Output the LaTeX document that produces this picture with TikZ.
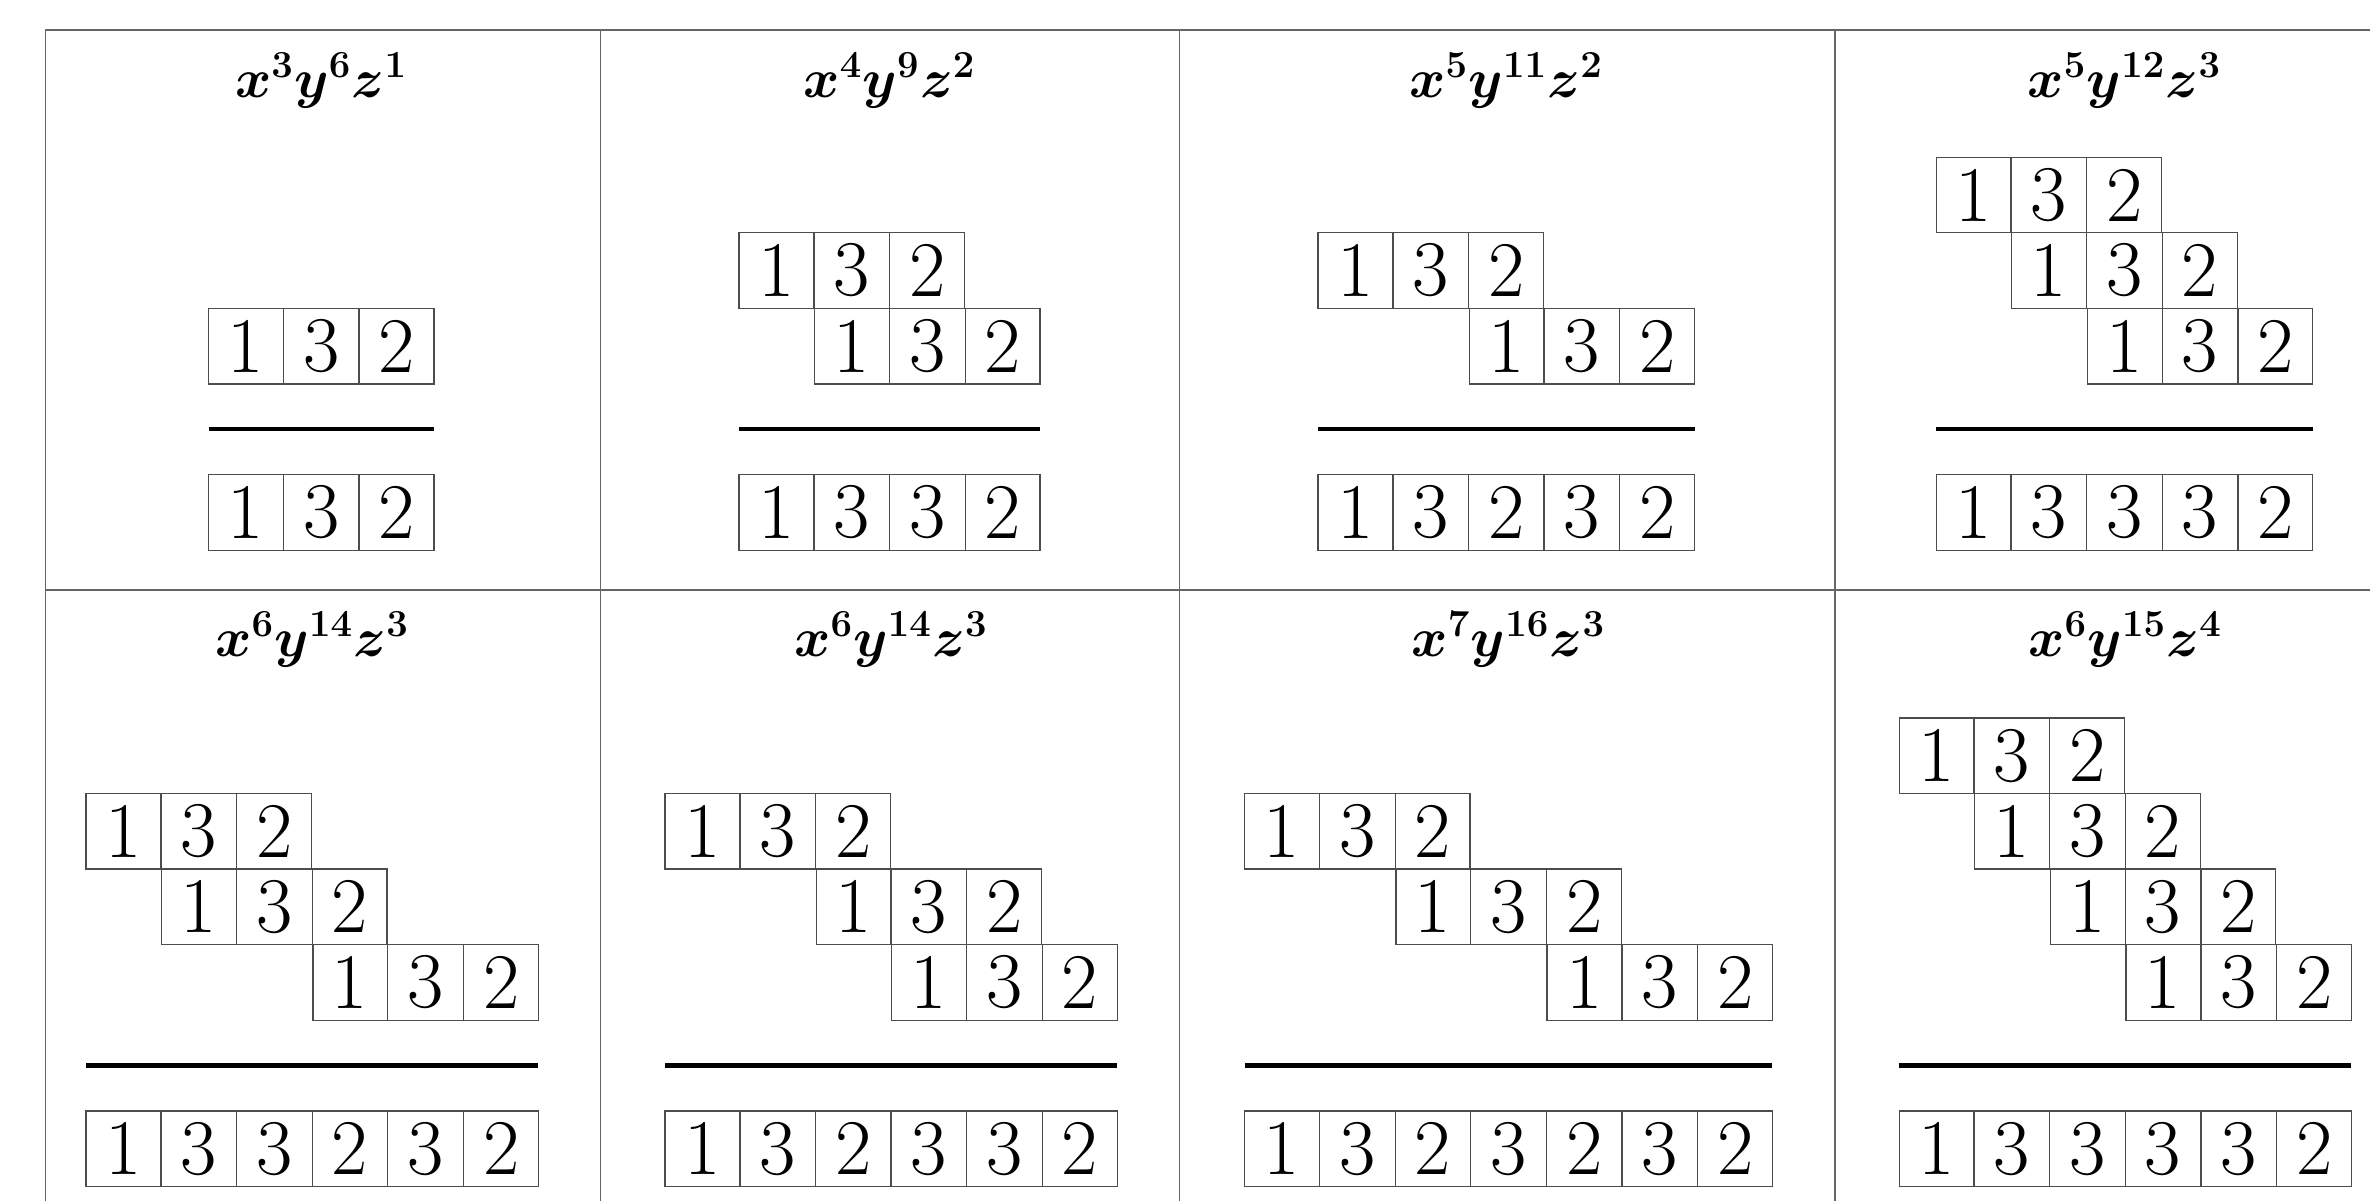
\documentclass[tikz,border=0pt]{standalone}
\usetikzlibrary{shapes.multipart}

\newcommand{\dg}[1]{\vbox to 1cm{\vss\hbox to \dimexpr1cm-0.5pt\relax{\hss#1\hss}\vss}}

\begin{document}
\begin{tikzpicture}[
    every node/.style={inner sep=0pt, outer sep=0pt},
    strip/.style={rectangle split, rectangle split horizontal, rectangle split parts=#1,
      draw=black!70, line width=0.5pt, anchor=north west, font=\fontsize{29.7}{34}\selectfont},
    title/.style={anchor=base, font=\fontsize{20.74}{24}\selectfont\boldmath},
    grid/.style={draw=black!60, line width=0.6pt},
    rule/.style={line width=1.6pt}]

  \useasboundingbox (0,0) rectangle (31.36,-15.89);

  % table lines
  \draw[grid] (31.36,-0.395) -- (0.602,-0.395) -- (0.602,-15.89);
  \draw[grid] (0.602,-7.81) -- (31.36,-7.81);
  \draw[grid] (7.944,-0.395) -- (7.944,-15.89);
  \draw[grid] (15.608,-0.395) -- (15.608,-15.89);
  \draw[grid] (24.278,-0.395) -- (24.278,-15.89);

  % first row
  \node[strip=3] (a1) at (2.76,-4.08) {\dg{1}\nodepart{two}\dg{3}\nodepart{three}\dg{2}};
  \node[strip=3] (r1) at (2.76,-6.28) {\dg{1}\nodepart{two}\dg{3}\nodepart{three}\dg{2}};
  \node[title] (t1) at (r1.north |- 0,-1.29) {$x^{3}y^{6}z^{1}$};

  \node[strip=3] (b1) at (9.78,-3.08) {\dg{1}\nodepart{two}\dg{3}\nodepart{three}\dg{2}};
  \node[strip=3] (b2) at (10.78,-4.08) {\dg{1}\nodepart{two}\dg{3}\nodepart{three}\dg{2}};
  \node[strip=4] (r2) at (9.78,-6.28) {\dg{1}\nodepart{two}\dg{3}\nodepart{three}\dg{3}\nodepart{four}\dg{2}};
  \node[title] (t2) at (r2.north |- 0,-1.29) {$x^{4}y^{9}z^{2}$};

  \node[strip=3] (c1) at (17.44,-3.08) {\dg{1}\nodepart{two}\dg{3}\nodepart{three}\dg{2}};
  \node[strip=3] (c2) at (19.44,-4.08) {\dg{1}\nodepart{two}\dg{3}\nodepart{three}\dg{2}};
  \node[strip=5] (r3) at (17.44,-6.28) {\dg{1}\nodepart{two}\dg{3}\nodepart{three}\dg{2}\nodepart{four}\dg{3}\nodepart{five}\dg{2}};
  \node[title] (t3) at (r3.north |- 0,-1.29) {$x^{5}y^{11}z^{2}$};

  \node[strip=3] (d1) at (25.62,-2.08) {\dg{1}\nodepart{two}\dg{3}\nodepart{three}\dg{2}};
  \node[strip=3] (d2) at (26.62,-3.08) {\dg{1}\nodepart{two}\dg{3}\nodepart{three}\dg{2}};
  \node[strip=3] (d3) at (27.62,-4.08) {\dg{1}\nodepart{two}\dg{3}\nodepart{three}\dg{2}};
  \node[strip=5] (r4) at (25.62,-6.28) {\dg{1}\nodepart{two}\dg{3}\nodepart{three}\dg{3}\nodepart{four}\dg{3}\nodepart{five}\dg{2}};
  \node[title] (t4) at (r4.north |- 0,-1.29) {$x^{5}y^{12}z^{3}$};

  % second row
  \node[strip=3] (e1) at (1.14,-10.5) {\dg{1}\nodepart{two}\dg{3}\nodepart{three}\dg{2}};
  \node[strip=3] (e2) at (2.14,-11.5) {\dg{1}\nodepart{two}\dg{3}\nodepart{three}\dg{2}};
  \node[strip=3] (e3) at (4.14,-12.5) {\dg{1}\nodepart{two}\dg{3}\nodepart{three}\dg{2}};
  \node[strip=6] (r5) at (1.14,-14.7) {\dg{1}\nodepart{two}\dg{3}\nodepart{three}\dg{3}\nodepart{four}\dg{2}\nodepart{five}\dg{3}\nodepart{six}\dg{2}};
  \node[title] (t5) at (r5.north |- 0,-8.69) {$x^{6}y^{14}z^{3}$};

  \node[strip=3] (f1) at (8.8,-10.5) {\dg{1}\nodepart{two}\dg{3}\nodepart{three}\dg{2}};
  \node[strip=3] (f2) at (10.8,-11.5) {\dg{1}\nodepart{two}\dg{3}\nodepart{three}\dg{2}};
  \node[strip=3] (f3) at (11.8,-12.5) {\dg{1}\nodepart{two}\dg{3}\nodepart{three}\dg{2}};
  \node[strip=6] (r6) at (8.8,-14.7) {\dg{1}\nodepart{two}\dg{3}\nodepart{three}\dg{2}\nodepart{four}\dg{3}\nodepart{five}\dg{3}\nodepart{six}\dg{2}};
  \node[title] (t6) at (r6.north |- 0,-8.69) {$x^{6}y^{14}z^{3}$};

  \node[strip=3] (g1) at (16.47,-10.5) {\dg{1}\nodepart{two}\dg{3}\nodepart{three}\dg{2}};
  \node[strip=3] (g2) at (18.47,-11.5) {\dg{1}\nodepart{two}\dg{3}\nodepart{three}\dg{2}};
  \node[strip=3] (g3) at (20.47,-12.5) {\dg{1}\nodepart{two}\dg{3}\nodepart{three}\dg{2}};
  \node[strip=7] (r7) at (16.47,-14.7) {\dg{1}\nodepart{two}\dg{3}\nodepart{three}\dg{2}\nodepart{four}\dg{3}\nodepart{five}\dg{2}\nodepart{six}\dg{3}\nodepart{seven}\dg{2}};
  \node[title] (t7) at (r7.north |- 0,-8.69) {$x^{7}y^{16}z^{3}$};

  \node[strip=3] (h1) at (25.13,-9.5) {\dg{1}\nodepart{two}\dg{3}\nodepart{three}\dg{2}};
  \node[strip=3] (h2) at (26.13,-10.5) {\dg{1}\nodepart{two}\dg{3}\nodepart{three}\dg{2}};
  \node[strip=3] (h3) at (27.13,-11.5) {\dg{1}\nodepart{two}\dg{3}\nodepart{three}\dg{2}};
  \node[strip=3] (h4) at (28.13,-12.5) {\dg{1}\nodepart{two}\dg{3}\nodepart{three}\dg{2}};
  \node[strip=6] (r8) at (25.13,-14.7) {\dg{1}\nodepart{two}\dg{3}\nodepart{three}\dg{3}\nodepart{four}\dg{3}\nodepart{five}\dg{3}\nodepart{six}\dg{2}};
  \node[title] (t8) at (r8.north |- 0,-8.69) {$x^{6}y^{15}z^{4}$};

  % sum rules
  \foreach \r in {r1,r2,r3,r4,r5,r6,r7,r8}
    \draw[rule] ([yshift=6mm]\r.north west) -- ([yshift=6mm]\r.north east);
\end{tikzpicture}
\end{document}
